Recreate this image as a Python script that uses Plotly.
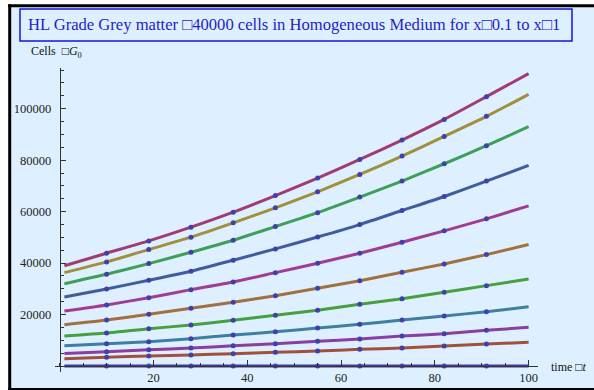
import plotly.graph_objects as go

# ---------------- data ----------------
t_values = [1, 10, 19, 28, 37, 46, 55, 64, 73, 82, 91, 100]

series_zero   = [0, 0, 0, 0, 0, 0, 0, 0, 0, 0, 0, 0]
series_x10    = [39000, 43850, 48640, 53970, 59800, 66260, 73030, 80270, 87820, 95840, 104670, 113620]
series_x09    = [36300, 40470, 45260, 50080, 55640, 61480, 67700, 74440, 81600, 89220, 97010, 105570]
series_x08    = [32020, 35680, 39810, 44240, 48900, 54200, 59600, 65640, 71870, 78600, 85600, 93000]
series_x07    = [26850, 29960, 33340, 36850, 41130, 45530, 50140, 54980, 60430, 65880, 71870, 77940]
series_x06    = [21400, 23740, 26580, 29700, 32680, 36300, 39960, 43850, 48130, 52530, 57200, 62260]
series_x05    = [16070, 17900, 20110, 22450, 24790, 27350, 30230, 33190, 36460, 39690, 43310, 47200]
series_x04    = [11670, 12840, 14520, 15950, 17780, 19730, 21670, 24010, 26190, 28680, 31250, 33850]
series_x03    = [7900, 8680, 9500, 10650, 12100, 13300, 14790, 16230, 17900, 19460, 21130, 23070]
series_x02    = [4930, 5570, 6340, 7000, 7900, 8680, 9610, 10510, 11670, 12580, 13890, 15060]
series_x01    = [2850, 3450, 3950, 4350, 4790, 5330, 5840, 6490, 7000, 7780, 8560, 9220]

series_list = [series_zero, series_x10, series_x09, series_x08, series_x07, series_x06,
               series_x05, series_x04, series_x03, series_x02, series_x01]
series_colors = ["#3F3D99", "#A13C72", "#A0903E", "#3E9F58", "#3E5C9E", "#A03C96",
                 "#A0713E", "#46A03E", "#3E7EA0", "#8A3EA0", "#A0513E"]

x_tick_vals = [20, 40, 60, 80, 100]
x_tick_text = ["20", "40", "60", "80", "100"]
y_tick_vals = [20000, 40000, 60000, 80000, 100000]
y_tick_text = ["20000", "40000", "60000", "80000", "100000"]

title_text = "HL Grade Grey matter \u25a140000 cells in Homogeneous Medium for x\u25a10.1 to x\u25a11"
y_label = "Cells  \u25a1<i>G</i><sub>0</sub>"
x_label = "time \u25a1<i>t</i>"

# ---------------- layout geometry ----------------
W, H = 594, 390
ML, MR, MT, MB = 55, 56, 68, 18
PW, PH = W - ML - MR, H - MT - MB
XR = [-1, 102]
YR = [-2300, 115800]

def px(x):
    """page pixel x -> paper fraction"""
    return (x - ML) / PW

def py(y):
    """page pixel y -> paper fraction"""
    return (H - MB - y) / PH

BG = "#DEF0FF"
FONT = "Liberation Serif"

fig = go.Figure()

for vals, col in zip(series_list, series_colors):
    fig.add_trace(go.Scatter(
        x=t_values, y=vals, mode="lines",
        line=dict(color=col, width=3, shape="spline", smoothing=0.6),
        hoverinfo="skip", showlegend=False, cliponaxis=False))

for vals in series_list:
    fig.add_trace(go.Scatter(
        x=t_values[1:-1], y=vals[1:-1], mode="markers",
        marker=dict(color="#4040A8", size=5),
        hoverinfo="skip", showlegend=False, cliponaxis=False))

axis_common = dict(
    showgrid=False, zeroline=False, showline=True, linecolor="#333333", linewidth=1,
    ticks="inside", tickcolor="#333333", tickwidth=1,
    tickfont=dict(family=FONT, size=12.5, color="#222222"),
    anchor="free", tickmode="array", automargin=False,
)

border = dict(color="black", width=3)

fig.update_layout(
    width=W, height=H,
    margin=dict(l=ML, r=MR, t=MT, b=MB, autoexpand=False),
    paper_bgcolor="white", plot_bgcolor=BG,
    hovermode=False, dragmode=False,
    xaxis=dict(range=XR, tickvals=x_tick_vals, ticktext=x_tick_text, ticklen=6,
               position=(0 - YR[0]) / (YR[1] - YR[0]),
               minor=dict(tickmode="linear", tick0=0, dtick=5, ticks="inside", ticklen=3,
                          tickcolor="#333333", tickwidth=1),
               **axis_common),
    yaxis=dict(range=YR, tickvals=y_tick_vals, ticktext=y_tick_text, ticklen=5,
               position=(0 - XR[0]) / (XR[1] - XR[0]), ticklabelstandoff=6,
               minor=dict(tickmode="linear", tick0=0, dtick=5000, ticks="inside", ticklen=3,
                          tickcolor="#333333", tickwidth=1),
               **axis_common),
    shapes=[
        dict(type="rect", xref="paper", yref="paper", layer="below",
             x0=px(9.7), x1=px(700), y0=py(5.8), y1=py(389.5),
             line=dict(width=0), fillcolor=BG),
        dict(type="line", xref="paper", yref="paper", layer="below",
             x0=px(9.7), x1=px(9.7), y0=py(4.3), y1=py(391), line=border),
        dict(type="line", xref="paper", yref="paper", layer="below",
             x0=px(8.2), x1=px(700), y0=py(5.8), y1=py(5.8), line=border),
        dict(type="line", xref="paper", yref="paper", layer="below",
             x0=px(8.2), x1=px(700), y0=py(389.5), y1=py(389.5), line=border),
        dict(type="rect", xref="paper", yref="paper", layer="below",
             x0=px(20), x1=px(572), y0=py(9), y1=py(41),
             line=dict(color="#1414E0", width=1.5), fillcolor=BG),
    ],
    annotations=[
        dict(text=title_text, xref="paper", yref="paper", x=px(26), y=py(25),
             xanchor="left", yanchor="middle", showarrow=False,
             font=dict(family=FONT, size=16.6, color="#1E1EC8")),
        dict(text=y_label, xref="paper", yref="paper", x=px(29), y=py(52),
             xanchor="left", yanchor="middle", showarrow=False,
             font=dict(family=FONT, size=12, color="#111111")),
        dict(text=x_label, xref="paper", yref="paper", x=px(549), y=py(367),
             xanchor="left", yanchor="middle", showarrow=False,
             font=dict(family=FONT, size=12, color="#111111")),
    ],
)

# remove the browser's default 8px body margin so the figure sits at the page origin
fig.write_html("out.html", config={"displayModeBar": False, "staticPlot": True},
               post_script="document.body.style.margin='0';document.body.style.overflow='hidden';")
